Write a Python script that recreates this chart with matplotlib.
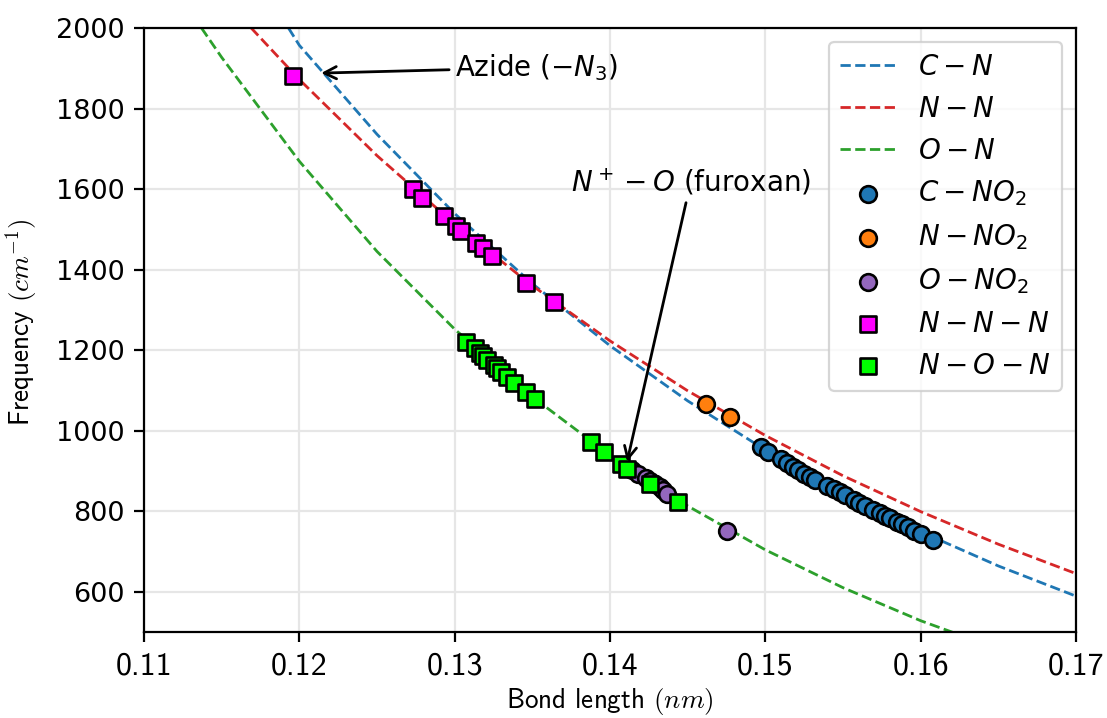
import matplotlib
matplotlib.use("Agg")
import matplotlib.pyplot as plt

# dashed reference curves
cn_x = [0.1193, 0.120, 0.125, 0.130, 0.135, 0.140, 0.145, 0.150, 0.155, 0.160, 0.165, 0.170]
cn_y = [2000, 1957, 1736, 1539, 1365, 1211, 1074, 952, 844, 749, 664, 589]
nn_x = [0.1169, 0.120, 0.125, 0.130, 0.135, 0.140, 0.145, 0.150, 0.155, 0.160, 0.165, 0.170]
nn_y = [2000, 1872, 1683, 1513, 1360, 1223, 1099, 988, 888, 799, 718, 645]
on_x = [0.1137, 0.115, 0.120, 0.125, 0.130, 0.135, 0.140, 0.145, 0.150, 0.155, 0.160, 0.165]
on_y = [2000, 1927, 1669, 1445, 1252, 1084, 939, 813, 704, 610, 528, 458]

# measured points
c_no2_x = [0.1497, 0.1502, 0.1510, 0.1514, 0.1518, 0.1521, 0.1525, 0.1529, 0.1532, 0.1540,
           0.1544, 0.1548, 0.1551, 0.1557, 0.1560, 0.1564, 0.1569, 0.1574, 0.1577, 0.1580,
           0.1585, 0.1588, 0.1592, 0.1596, 0.1600, 0.1608]
c_no2_y = [960, 948, 930, 920, 910, 903, 893, 886, 878, 863,
           856, 848, 841, 828, 821, 814, 804, 796, 789, 784,
           774, 769, 761, 752, 744, 729]
n_no2_x = [0.1462, 0.1477]
n_no2_y = [1066, 1035]
o_no2_x = [0.1414, 0.1418, 0.1423, 0.1426, 0.1429, 0.1432, 0.1434, 0.1437, 0.1475]
o_no2_y = [903, 893, 883, 876, 868, 861, 853, 843, 752]
nnn_x = [0.1196, 0.1273, 0.1279, 0.1293, 0.1301, 0.1304, 0.1314, 0.1318, 0.1324, 0.1346, 0.1364]
nnn_y = [1882, 1600, 1577, 1532, 1509, 1496, 1466, 1453, 1434, 1366, 1319]
non_x = [0.1307, 0.1313, 0.1316, 0.1318, 0.1321, 0.1325, 0.1327, 0.1330, 0.1334, 0.1338,
         0.1346, 0.1352, 0.1388, 0.1396, 0.1407, 0.1411, 0.1426, 0.1444]
non_y = [1221, 1205, 1193, 1186, 1176, 1164, 1156, 1145, 1133, 1118,
         1096, 1078, 971, 948, 918, 905, 868, 822]

xticks = [0.11, 0.12, 0.13, 0.14, 0.15, 0.16, 0.17]
yticks = [600, 800, 1000, 1200, 1400, 1600, 1800, 2000]

fs = 20
fig = plt.figure(figsize=(11.07, 7.18), dpi=100)
ax = fig.add_axes([0.1301, 0.1198, 0.8419, 0.8412])

ax.plot(cn_x, cn_y, '--', color='#1f77b4', lw=2, label='$C-N$')
ax.plot(nn_x, nn_y, '--', color='#d62728', lw=2, label='$N-N$')
ax.plot(on_x, on_y, '--', color='#2ca02c', lw=2, label='$O-N$')

kw = dict(s=144, edgecolors='black', linewidths=1.9, zorder=3)
ax.scatter(c_no2_x, c_no2_y, marker='o', color='#1f77b4', label='$C-NO_2$', **kw)
ax.scatter(n_no2_x, n_no2_y, marker='o', color='#ff7f0e', label='$N-NO_2$', **kw)
ax.scatter(o_no2_x, o_no2_y, marker='o', color='#9467bd', label='$O-NO_2$', **kw)
ax.scatter(nnn_x, nnn_y, marker='s', color='#ff00ff', label='$N-N-N$', **kw)
ax.scatter(non_x, non_y, marker='s', color='#00ff00', label='$N-O-N$', **kw)

ax.annotate('Azide ($-N_3$)', xy=(0.1214, 1888), xytext=(0.1300, 1902),
            fontsize=fs, ha='left', va='center',
            arrowprops=dict(arrowstyle='->', color='black', lw=2, shrinkB=0, mutation_scale=22))
ax.annotate('$N^+-O$ (furoxan)', xy=(0.1411, 923), xytext=(0.1452, 1618),
            fontsize=fs, ha='center', va='center',
            arrowprops=dict(arrowstyle='->', color='black', lw=2, shrinkB=0, mutation_scale=22))

ax.set_xlim(0.11, 0.17)
ax.set_ylim(500, 2000)
ax.set_xticks(xticks, labels=['%.2f' % t for t in xticks], fontfamily='cmss10', fontsize=23)
ax.set_yticks(yticks, labels=[str(t) for t in yticks], fontsize=19.5)
ax.tick_params(width=1.6, length=7, pad=7)
for sp in ax.spines.values():
    sp.set_linewidth(1.6)
ax.grid(True, color='#e6e6e6', lw=1.6)
ax.set_axisbelow(True)

ax.set_xlabel('Bond length $(nm)$', fontfamily='cmss10', math_fontfamily='cm', fontsize=19.5)
ax.set_ylabel('Frequency $(cm^{-1})$', fontfamily='cmss10', math_fontfamily='cm', fontsize=19.5)
ax.xaxis.set_label_coords(0.5, -0.089)
ax.yaxis.set_label_coords(-0.112, 0.513)

leg = ax.legend(loc='upper right', fontsize=fs)
leg.get_frame().set_edgecolor('#cccccc')
leg.get_frame().set_linewidth(1.6)

fig.savefig('out.png', dpi=100)
